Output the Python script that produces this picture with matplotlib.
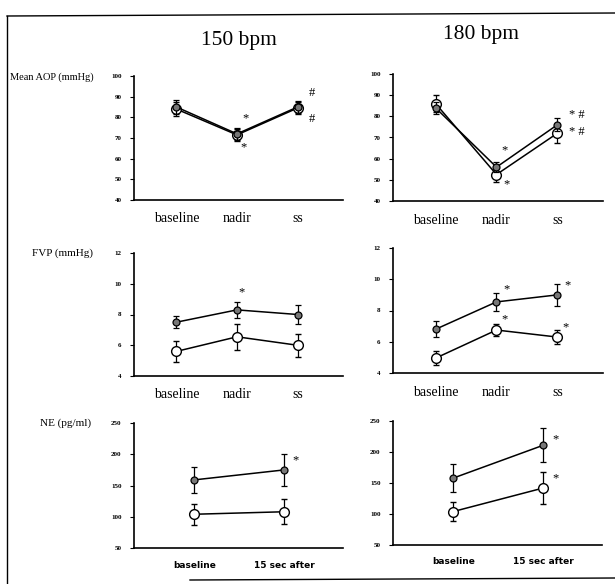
import matplotlib
matplotlib.use('Agg')
import matplotlib.pyplot as plt
from matplotlib.lines import Line2D

plt.rcParams['font.family'] = ['Liberation Serif', 'DejaVu Serif']

phases = ['baseline', 'nadir', 'ss']
ne_phases = ['baseline', '15 sec after']

# mean AOP (mmHg)
aop150_filled = [85, 72, 85]
aop150_filled_err = [3.5, 3, 3]
aop150_open = [84, 71.5, 84.5]
aop150_open_err = [3.5, 3, 3]
aop180_filled = [84, 56, 76]
aop180_filled_err = [3, 2.5, 3]
aop180_open = [86, 52.5, 72]
aop180_open_err = [4, 3.5, 4.5]

# FVP (mmHg)
fvp150_filled = [7.5, 8.3, 8.0]
fvp150_filled_err = [0.4, 0.5, 0.6]
fvp150_open = [5.6, 6.55, 6.0]
fvp150_open_err = [0.7, 0.85, 0.75]
fvp180_filled = [6.8, 8.55, 9.0]
fvp180_filled_err = [0.5, 0.55, 0.7]
fvp180_open = [4.95, 6.75, 6.3]
fvp180_open_err = [0.45, 0.4, 0.45]

# NE (pg/ml)
ne150_filled = [159, 175]
ne150_filled_err = [21, 25]
ne150_open = [104, 108]
ne150_open_err = [17, 20]
ne180_filled = [158, 211]
ne180_filled_err = [22, 27]
ne180_open = [104, 142]
ne180_open_err = [16, 26]

W, H = 615, 584
fig = plt.figure(figsize=(W / 100, H / 100), dpi=100)


def add_ax(x0, x1, y0, y1):
    # pixel box (top origin) -> figure fraction
    return fig.add_axes([x0 / W, 1 - y1 / H, (x1 - x0) / W, (y1 - y0) / H])


def draw(ax, labels, filled, ferr, opn, oerr, ylim, yticks, xlim, bold_x=False):
    xs = list(range(len(labels)))
    ax.errorbar(xs, opn, yerr=oerr, color='black', lw=1.1, capsize=2, elinewidth=0.9,
                marker='o', ms=7, mfc='white', mec='black', mew=1.0, zorder=3)
    ax.errorbar(xs, filled, yerr=ferr, color='black', lw=1.1, capsize=2, elinewidth=0.9,
                marker='o', ms=5, mfc='#777777', mec='black', mew=0.9, zorder=4)
    ax.set_ylim(*ylim)
    ax.set_yticks(yticks)
    ax.set_yticklabels([str(t) for t in yticks], fontsize=5, fontweight='bold')
    ax.set_xlim(*xlim)
    ax.set_xticks(xs)
    if bold_x:
        ax.set_xticklabels(labels, fontsize=6.5, fontweight='bold', family=['DejaVu Sans'])
    else:
        ax.set_xticklabels(labels, fontsize=10)
    ax.tick_params(axis='x', length=0, pad=9)
    ax.tick_params(axis='y', length=3, width=0.8, pad=6)
    for s in ['top', 'right']:
        ax.spines[s].set_visible(False)
    for s in ['left', 'bottom']:
        ax.spines[s].set_linewidth(1.2)
    ax.patch.set_alpha(0)


def mark(ax, txt, x, y, dx, dy, size=9):
    ax.annotate(txt, xy=(x, y), xytext=(dx, dy), textcoords='offset points',
                ha='center', va='center', fontsize=size)


lim3 = (-0.7, 2.75)
lim2 = (-0.67, 1.65)

ax1 = add_ax(134, 343, 76, 200)
draw(ax1, phases, aop150_filled, aop150_filled_err, aop150_open, aop150_open_err,
     (40, 100), [40, 50, 60, 70, 80, 90, 100], lim3)
mark(ax1, '*', 1, aop150_filled[1], 6, 11)
mark(ax1, '*', 1, aop150_open[1], 5, -9)
mark(ax1, '#', 2, aop150_filled[2], 10, 10)
mark(ax1, '#', 2, aop150_open[2], 10, -8)

ax2 = add_ax(393, 603, 74, 201)
draw(ax2, phases, aop180_filled, aop180_filled_err, aop180_open, aop180_open_err,
     (40, 100), [40, 50, 60, 70, 80, 90, 100], lim3)
mark(ax2, '*', 1, aop180_filled[1], 6, 12)
mark(ax2, '*', 1, aop180_open[1], 7, -7)
mark(ax2, '* #', 2, aop180_filled[2], 14, 7)
mark(ax2, '* #', 2, aop180_open[2], 14, 1)

ax3 = add_ax(134, 343, 253, 376)
draw(ax3, phases, fvp150_filled, fvp150_filled_err, fvp150_open, fvp150_open_err,
     (4, 12), [4, 6, 8, 10, 12], lim3)
mark(ax3, '*', 1, fvp150_filled[1], 3, 13)

ax4 = add_ax(393, 603, 248, 373)
draw(ax4, phases, fvp180_filled, fvp180_filled_err, fvp180_open, fvp180_open_err,
     (4, 12), [4, 6, 8, 10, 12], lim3)
mark(ax4, '*', 1, fvp180_filled[1], 7, 9)
mark(ax4, '*', 1, fvp180_open[1], 6, 8)
mark(ax4, '*', 2, fvp180_filled[2], 7, 7)
mark(ax4, '*', 2, fvp180_open[2], 6, 7)

ax5 = add_ax(134, 343, 423, 548)
draw(ax5, ne_phases, ne150_filled, ne150_filled_err, ne150_open, ne150_open_err,
     (50, 250), [50, 100, 150, 200, 250], lim2, bold_x=True)
mark(ax5, '*', 1, ne150_filled[1], 8, 7)

ax6 = add_ax(393, 602, 421, 545)
draw(ax6, ne_phases, ne180_filled, ne180_filled_err, ne180_open, ne180_open_err,
     (50, 250), [50, 100, 150, 200, 250], lim2, bold_x=True)
mark(ax6, '*', 1, ne180_filled[1], 9, 4)
mark(ax6, '*', 1, ne180_open[1], 9, 7)

fig.text(239 / W, 1 - 40 / H, '150 bpm', ha='center', va='center', fontsize=15.5)
fig.text(481 / W, 1 - 35 / H, '180 bpm', ha='center', va='center', fontsize=15.5)

fig.text(10 / W, 1 - 77 / H, 'Mean AOP (mmHg)', ha='left', va='center', fontsize=7.5)
fig.text(32 / W, 1 - 253 / H, 'FVP (mmHg)', ha='left', va='center', fontsize=8)
fig.text(40 / W, 1 - 423 / H, 'NE (pg/ml)', ha='left', va='center', fontsize=8)

# scanned page frame
for xs_, ys_ in [([7, 615], [16, 13]), ([7, 7], [16, 584]), ([190, 615], [580, 578])]:
    fig.add_artist(Line2D([x / W for x in xs_], [1 - y / H for y in ys_],
                          color='black', lw=1.0))

fig.savefig('out.png', dpi=100)
